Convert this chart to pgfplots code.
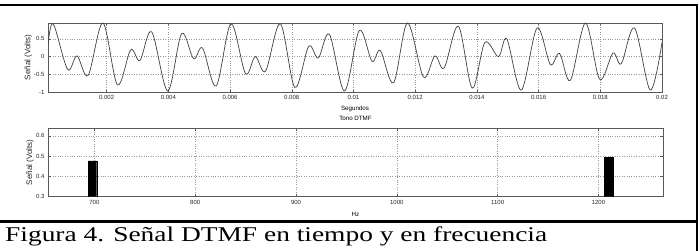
\documentclass[border=0pt]{standalone}
\usepackage{graphicx}
\usepackage{pgfplots}
\pgfplotsset{compat=1.18}
\usepackage{fontspec}
\setmainfont{Liberation Serif}
\newfontfamily\chartfont{Liberation Sans}
\begin{document}
\begin{tikzpicture}
\path[use as bounding box] (0,0) rectangle (700bp,-251bp);
\pgfplotsset{
 every axis title shift=0pt,
 mystyle/.style={
  scale only axis,
  scaled ticks=false,
  axis line style={black!65, line width=0.6bp},
  tick style={black!65, line width=0.5bp},
  tick align=inside,
  major tick length=2.5bp,
  grid=major,
  major grid style={dotted, black!40, line width=0.5bp},
  tick label style={font=\chartfont\fontsize{6bp}{7bp}\selectfont, text=black!85},
  /pgf/number format/assume math mode=true,
  xlabel style={font=\chartfont\fontsize{6.2bp}{7bp}\selectfont, anchor=center},
  ylabel style={font=\chartfont\fontsize{8bp}{9bp}\selectfont, anchor=center, text=black!85},
  title style={font=\chartfont\fontsize{6.2bp}{7bp}\selectfont, anchor=center},
 }
}
% ---- time domain ----
\begin{axis}[mystyle, at={(48bp,-92bp)}, anchor=south west, width=614bp, height=69bp,
 xmin=0.0001, xmax=0.02, ymin=-1, ymax=0.95,
 xtick={0.002,0.004,0.006,0.008,0.01,0.012,0.014,0.016,0.018,0.02},
 xticklabels={0.002,0.004,0.006,0.008,0.01,0.012,0.014,0.016,0.018,0.02},
 ytick={-1,-0.5,0,0.5},
 yticklabels={-1,-0.5,0,0.5},
 xlabel={Segundos},
 xlabel style={at={(axis description cs:0.5,-0.246)}},
 ylabel={Señal (Volts)},
 ylabel style={at={(axis description cs:-0.032,0.5)}},
]
\addplot[black!75, line width=0.7bp, smooth, tension=0.55] coordinates {
(0.0001,0.33) (0.00027,0.925) (0.000735,-0.36) (0.00104,0.02) (0.0014,-0.53)
(0.00188,0.95) (0.00235,-0.80) (0.00278,0.19) (0.00308,-0.11) (0.00346,0.70)
(0.00398,-0.97) (0.00443,0.65) (0.00482,-0.06) (0.00511,0.24) (0.00555,-0.83)
(0.00603,0.93) (0.0065,-0.48) (0.00682,0.0) (0.00715,-0.41) (0.00763,0.93)
(0.0081,-0.87) (0.00855,0.29) (0.00886,-0.04) (0.00922,0.63) (0.00971,-0.97)
(0.01019,0.74) (0.0106,-0.13) (0.01087,0.17) (0.0113,-0.74) (0.01175,0.95)
(0.01227,-0.575) (0.01264,0.02) (0.01294,-0.32) (0.0134,0.86) (0.01385,-0.89)
(0.01426,0.40) (0.0147,0.0) (0.01497,0.5) (0.01544,-0.945) (0.01595,0.81)
(0.01638,-0.22) (0.01668,0.09) (0.01703,-0.67) (0.01752,0.95) (0.01798,-0.64)
(0.01841,0.10) (0.01868,-0.2) (0.01911,0.81) (0.01962,-0.945) (0.02,0.40)
};
\end{axis}
% ---- frequency domain ----
\begin{axis}[mystyle, at={(48bp,-196.7bp)}, anchor=south west, width=615bp, height=68.4bp,
 xmin=654, xmax=1264, ymin=0.297, ymax=0.638,
 xtick={700,800,900,1000,1100,1200},
 xticklabels={700,800,900,1000,1100,1200},
 ytick={0.3,0.4,0.5,0.6},
 yticklabels={0.3,0.4,0.5,0.6},
 xlabel={Hz},
 xlabel style={at={(axis description cs:0.5,-0.26)}},
 ylabel={Señal (Volts)},
 ylabel style={at={(axis description cs:-0.0293,0.5)}},
 title={Tono DTMF},
 title style={at={(axis description cs:0.5,1.143)}},
]
\addplot[ybar, bar width=8.6, fill=black, draw=black, line width=0.3bp] coordinates {(698,0.475) (1210,0.493)};
\end{axis}
% ---- frame ----
\draw[line width=2bp] (0,-4.7bp) -- (697.3bp,-4.7bp);
\draw[line width=2.8bp] (697bp,-3.7bp) -- (697bp,-251bp);
\draw[line width=2.7bp] (0,-221.3bp) -- (697bp,-221.3bp);
\node[anchor=base west, inner sep=0pt] at (5bp,-241.5bp)
 {\resizebox{542bp}{\height}{\fontsize{21bp}{24bp}\selectfont Figura 4. Señal DTMF en tiempo y en frecuencia}};
\end{tikzpicture}
\end{document}
